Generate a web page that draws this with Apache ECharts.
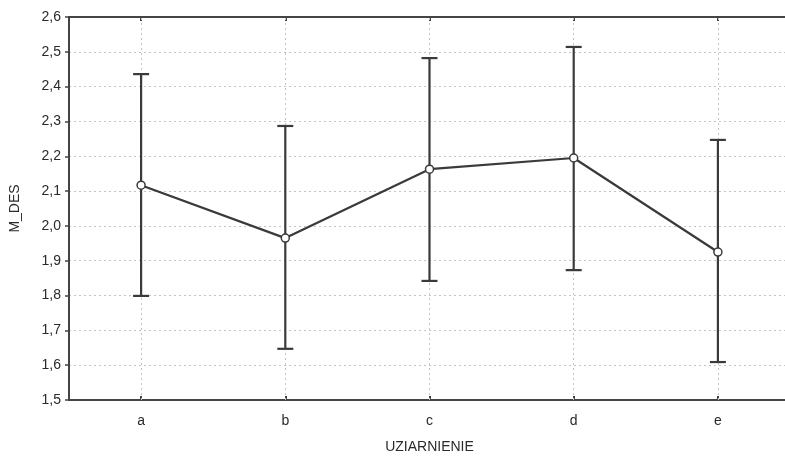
<!DOCTYPE html>
<html><head><meta charset="utf-8">
<script src="https://cdn.jsdelivr.net/npm/echarts@6/dist/echarts.min.js"></script>
<style>html,body{margin:0;padding:0;background:#fff;overflow:hidden}#c{width:785px;height:457px}</style>
</head><body><div id="c"></div>
<script>
var categories = ['a', 'b', 'c', 'd', 'e'];
var means = [2.117, 1.965, 2.163, 2.195, 1.925];
var upper = [2.436, 2.287, 2.482, 2.514, 2.247];
var lower = [1.799, 1.647, 1.842, 1.873, 1.609];
var yTicks = ['1,5','1,6','1,7','1,8','1,9','2,0','2,1','2,2','2,3','2,4','2,5','2,6'];

var chart = echarts.init(document.getElementById('c'));
var errData = categories.map(function (c, i) { return [i, lower[i], upper[i]]; });
var dark = '#3a3a3a';
var font = { fontFamily: 'Liberation Sans', fontSize: 14, color: '#2a2a2a' };
chart.setOption({
  animation: false,
  grid: { left: 69, top: 17, height: 383, width: 721, show: false, outerBoundsMode: 'none', containLabel: false },
  xAxis: [{
    type: 'category', data: categories,
    name: 'UZIARNIENIE', nameLocation: 'middle', nameGap: 40,
    nameTextStyle: font,
    axisLine: { lineStyle: { color: '#444', width: 2 } },
    axisTick: { show: true, alignWithLabel: true, inside: true, length: 4, lineStyle: { color: '#444', width: 2 } },
    axisLabel: Object.assign({ margin: 14 }, font),
    splitLine: { show: false }
  }, {
    type: 'category', data: categories, position: 'top',
    axisLine: { show: true, lineStyle: { color: '#444', width: 2 } },
    axisTick: { show: true, alignWithLabel: true, inside: true, length: 4, lineStyle: { color: '#444', width: 2 } },
    axisLabel: { show: false },
    splitLine: { show: false }
  }],
  yAxis: {
    type: 'value', min: 1.5, max: 2.6, interval: 0.1,
    name: 'M_DES', nameLocation: 'middle', nameGap: 47, nameRotate: 90,
    nameTextStyle: font,
    axisLine: { show: true, lineStyle: { color: '#444', width: 2 } },
    axisTick: { show: true, length: 4, lineStyle: { color: '#444', width: 1.5 } },
    axisLabel: Object.assign({ margin: 8,
      formatter: function (v) { return yTicks[Math.round((v - 1.5) * 10)]; } }, font),
    splitLine: { show: true, lineStyle: { color: '#c4c4c4', type: [2, 3], width: 1 } }
  },
  series: [
    {
      type: 'line', data: [], z: 1, silent: true,
      markLine: {
        silent: true, symbol: 'none', label: { show: false }, z: 1,
        lineStyle: { color: '#c4c4c4', type: [2, 3], width: 1 },
        data: categories.map(function (c) { return { xAxis: c }; })
      }
    },
    {
      type: 'custom',
      data: errData,
      z: 3,
      renderItem: function (params, api) {
        var x = api.value(0);
        var lo = api.coord([x, api.value(1)]);
        var hi = api.coord([x, api.value(2)]);
        var hw = 8;
        var st = { stroke: dark, lineWidth: 2.2, fill: null };
        return {
          type: 'group',
          children: [
            { type: 'line', shape: { x1: hi[0], y1: hi[1], x2: lo[0], y2: lo[1] }, style: st },
            { type: 'line', shape: { x1: hi[0] - hw, y1: hi[1], x2: hi[0] + hw, y2: hi[1] }, style: st },
            { type: 'line', shape: { x1: lo[0] - hw, y1: lo[1], x2: lo[0] + hw, y2: lo[1] }, style: st }
          ]
        };
      }
    },
    {
      type: 'line',
      data: means,
      z: 4,
      symbol: 'circle', symbolSize: 8,
      lineStyle: { color: dark, width: 2.2 },
      itemStyle: { color: '#fff', borderColor: dark, borderWidth: 1.5 }
    }
  ]
});
</script></body></html>
